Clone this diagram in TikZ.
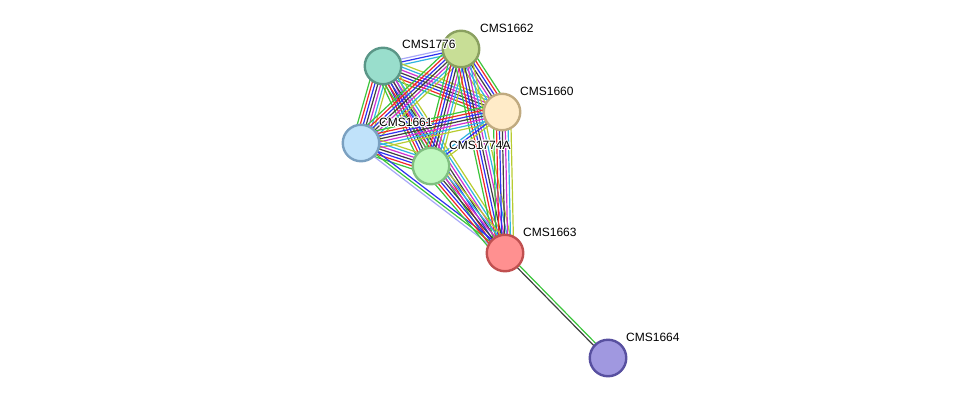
\documentclass[tikz,border=0pt]{standalone}
\usepackage{fontspec}
\setmainfont{Liberation Sans}
\usepackage[copies]{contour}
\contourlength{0.9pt}
\usetikzlibrary{calc,backgrounds}
\definecolor{sg}{HTML}{3BC43B}
\definecolor{sr}{HTML}{F02828}
\definecolor{sb}{HTML}{3030F0}
\definecolor{sk}{HTML}{404040}
\definecolor{sm}{HTML}{D030D0}
\definecolor{sc}{HTML}{30B4E0}
\definecolor{sy}{HTML}{B8CC30}
\definecolor{sl}{HTML}{A8A8F8}
\newcommand\bundle[4]{%
  \foreach \c [count=\i] in {#4}{%
    \pgfmathsetmacro\o{(\i-(#3+1)/2)*2.9}%
    \draw[edge,\c] ($(#1)!\o pt!90:(#2)$) -- ($(#2)!\o pt!-90:(#1)$);}}
\newcommand\halo[1]{\contour{white}{#1}}
\tikzset{
  prot/.style={circle,minimum size=36.5pt,inner sep=0pt,line width=2.4pt},
  lab/.style={font=\fontsize{12}{14}\selectfont,anchor=west,inner sep=0pt},
  edge/.style={line width=1.2pt}
}
\begin{document}
\begin{tikzpicture}[x=1pt,y=-1pt]
\useasboundingbox (0,0) rectangle (976,404);
\node[prot,fill={rgb,255:red,153;green,222;blue,204},draw={rgb,255:red,90;green,150;blue,135}] (n1776) at (383,66) {};
\node[prot,fill={rgb,255:red,200;green,222;blue,150},draw={rgb,255:red,138;green,160;blue,96}] (n1662) at (461,49) {};
\node[prot,fill={rgb,255:red,255;green,235;blue,200},draw={rgb,255:red,192;green,170;blue,128}] (n1660) at (502,112) {};
\node[prot,fill={rgb,255:red,192;green,226;blue,250},draw={rgb,255:red,122;green,160;blue,192}] (n1661) at (361,143) {};
\node[prot,fill={rgb,255:red,192;green,248;blue,192},draw={rgb,255:red,128;green,192;blue,128}] (n1774A) at (431,166) {};
\node[prot,fill={rgb,255:red,255;green,144;blue,144},draw={rgb,255:red,192;green,80;blue,80}] (n1663) at (505,253) {};
\node[prot,fill={rgb,255:red,160;green,152;blue,224},draw={rgb,255:red,88;green,80;blue,160}] (n1664) at (608,358) {};
\begin{scope}[on background layer]
\bundle{n1776}{n1662}{3}{sc,sb,sl}
\bundle{n1776}{n1660}{7}{sg,sr,sb,sk,sm,sc,sy}
\bundle{n1776}{n1661}{7}{sg,sr,sb,sk,sm,sc,sy}
\bundle{n1776}{n1774A}{7}{sg,sr,sb,sk,sm,sc,sy}
\bundle{n1776}{n1663}{7}{sg,sr,sb,sk,sm,sc,sy}
\bundle{n1662}{n1660}{7}{sy,sc,sm,sk,sb,sr,sg}
\bundle{n1662}{n1661}{7}{sg,sr,sb,sk,sm,sc,sy}
\bundle{n1662}{n1774A}{7}{sg,sr,sb,sk,sm,sc,sy}
\bundle{n1662}{n1663}{7}{sg,sr,sb,sk,sm,sc,sy}
\bundle{n1660}{n1661}{7}{sg,sr,sb,sk,sm,sc,sy}
\bundle{n1660}{n1774A}{3}{sc,sb,sy}
\bundle{n1660}{n1663}{7}{sg,sr,sb,sk,sm,sc,sy}
\bundle{n1661}{n1774A}{7}{sg,sr,sb,sk,sm,sc,sy}
\bundle{n1661}{n1663}{3}{sl,sg,sb}
\bundle{n1774A}{n1663}{7}{sg,sr,sb,sk,sm,sc,sy}
\bundle{n1663}{n1664}{2}{sk,sg}
\end{scope}
\node[lab] (l1776) at (402,45) {\halo{CMS1776}};
\node[lab] (l1662) at (480,29) {\halo{CMS1662}};
\node[lab] (l1660) at (520,92) {\halo{CMS1660}};
\node[lab] (l1661) at (379,123) {\halo{CMS1661}};
\node[lab] (l1774A) at (449,146) {\halo{CMS1774A}};
\node[lab] (l1663) at (523,233) {\halo{CMS1663}};
\node[lab] (l1664) at (626,338) {\halo{CMS1664}};
\end{tikzpicture}
\end{document}
